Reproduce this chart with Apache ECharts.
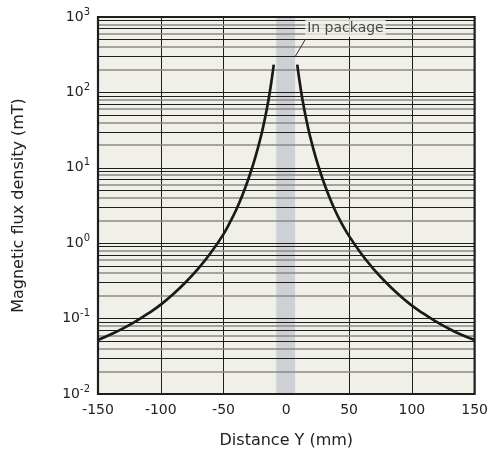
<!DOCTYPE html>
<html>
<head>
<meta charset="utf-8">
<script src="https://cdn.jsdelivr.net/npm/echarts@6/dist/echarts.min.js"></script>
<style>html,body{margin:0;padding:0;background:#fff;}#c{width:491px;height:468px;}</style>
</head>
<body>
<div id="c"></div>
<script>
// ---- data ----
const xTicks = [-150, -100, -50, 0, 50, 100, 150];
const yDecades = [0.01, 0.1, 1, 10, 100, 1000];
const minorMantissas = [2, 3, 4, 5, 6, 7, 8, 9];
const leftX = [-150, -140, -130, -120, -110, -100, -90, -80, -70, -60, -50, -45, -40, -35, -30, -25, -20, -17, -14, -12, -10];
const leftY = [0.052, 0.0614, 0.0741, 0.0918, 0.117, 0.153, 0.212, 0.306, 0.463, 0.752, 1.32, 1.87, 2.76, 4.33, 7.26, 13.2, 27.0, 45.3, 83.2, 135, 234];
const rightX = [8.7, 10.7, 12.7, 15.7, 18.7, 23.7, 28.7, 33.7, 38.7, 43.7, 49, 59, 69, 79, 89, 99, 109, 119, 129, 139, 150];
const rightY = [234, 135, 83.2, 45.3, 27.0, 13.2, 7.26, 4.33, 2.76, 1.87, 1.32, 0.752, 0.463, 0.306, 0.212, 0.153, 0.117, 0.0918, 0.0741, 0.0614, 0.052];
const packageBand = [-8, 7];
const annotText = 'In package';
const annotLabelAt = [15, 714];
const annotArrowFrom = [15.2, 506];
const annotArrowTo = [7.3, 304];

const FONT = 'DejaVu Sans';
const BG = '#f1f0e8';

const leftCurve = leftX.map((x, i) => [x, leftY[i]]);
const rightCurve = rightX.map((x, i) => [x, rightY[i]]);

const hLines = [];
yDecades.slice(1, -1).forEach(d => {
  hLines.push({yAxis: d, lineStyle: {color: '#1e1e1e', width: 1, type: 'solid'}});
});
yDecades.slice(0, -1).forEach(d => {
  minorMantissas.forEach(m => {
    const odd = m % 2 === 1;
    hLines.push({
      yAxis: d * m,
      lineStyle: odd ? {color: '#1e1e1e', width: 1, type: 'solid'} : {color: '#8a8a84', width: 1.7, type: 'solid'}
    });
  });
});

const chart = echarts.init(document.getElementById('c'));
chart.setOption({
  animation: false,
  backgroundColor: '#fff',
  grid: {left: 98, right: 14, top: 17, bottom: 74, show: true, backgroundColor: BG, borderColor: 'transparent', borderWidth: 0},
  xAxis: {
    type: 'value', min: xTicks[0], max: xTicks[xTicks.length - 1], interval: 50,
    name: 'Distance Y (mm)', nameLocation: 'middle', nameGap: 39,
    nameTextStyle: {fontFamily: FONT, fontSize: 16, color: '#222'},
    axisLine: {show: false}, axisTick: {show: false},
    axisLabel: {fontFamily: FONT, fontSize: 14, color: '#222', margin: 9},
    splitLine: {show: true, lineStyle: {color: '#1e1e1e', width: 1}}
  },
  yAxis: {
    type: 'log', logBase: 10, min: yDecades[0], max: yDecades[yDecades.length - 1],
    name: 'Magnetic flux density (mT)', nameLocation: 'middle', nameGap: 71,
    nameTextStyle: {fontFamily: FONT, fontSize: 16, color: '#222'},
    axisLine: {show: false}, axisTick: {show: false},
    axisLabel: {
      margin: 8,
      formatter: v => '{b|10}{s|' + Math.round(Math.log10(v)) + '}',
      rich: {
        b: {fontFamily: FONT, fontSize: 14, color: '#222'},
        s: {fontFamily: FONT, fontSize: 10, color: '#222', padding: [0, 0, 10, 0]}
      }
    },
    splitLine: {show: false}
  },
  series: [
    {
      type: 'line', data: [], z: 1, silent: true,
      markLine: {silent: true, symbol: 'none', label: {show: false}, animation: false, data: hLines}
    },
    {
      type: 'line', data: [], z: 4, silent: true,
      markArea: {silent: true, z: 4, itemStyle: {color: '#cdd0d4', borderWidth: 0}, label: {show: false},
        data: [[{xAxis: packageBand[0]}, {xAxis: packageBand[1]}]]}
    },
    {
      type: 'line', data: [], z: 6, silent: true,
      markLine: {
        silent: true, symbol: ['none', 'arrow'], symbolSize: [0, 6], label: {show: false},
        lineStyle: {color: '#333', width: 1, type: 'solid'},
        data: [[{coord: annotArrowFrom}, {coord: annotArrowTo}]]
      }
    },
    {
      type: 'scatter', data: [annotLabelAt], symbolSize: 0, z: 7, silent: true,
      label: {
        show: true, position: 'right', distance: 0, formatter: annotText,
        fontFamily: FONT, fontSize: 14, color: '#222', backgroundColor: BG, padding: [2, 2, 2, 2]
      }
    },
    {
      type: 'line', data: leftCurve, smooth: 0.4, showSymbol: false, z: 5,
      lineStyle: {color: '#1a1a1a', width: 2.7}
    },
    {
      type: 'line', data: rightCurve, smooth: 0.4, showSymbol: false, z: 5,
      lineStyle: {color: '#1a1a1a', width: 2.7}
    }
  ]
});
const rect = chart.getModel().getComponent('grid').coordinateSystem.getRect();
chart.setOption({graphic: [{type: 'rect', shape: {x: rect.x, y: rect.y, width: rect.width, height: rect.height}, style: {fill: 'none', stroke: '#1e1e1e', lineWidth: 2.2}, z: 100, silent: true}]});
</script>
</body>
</html>
